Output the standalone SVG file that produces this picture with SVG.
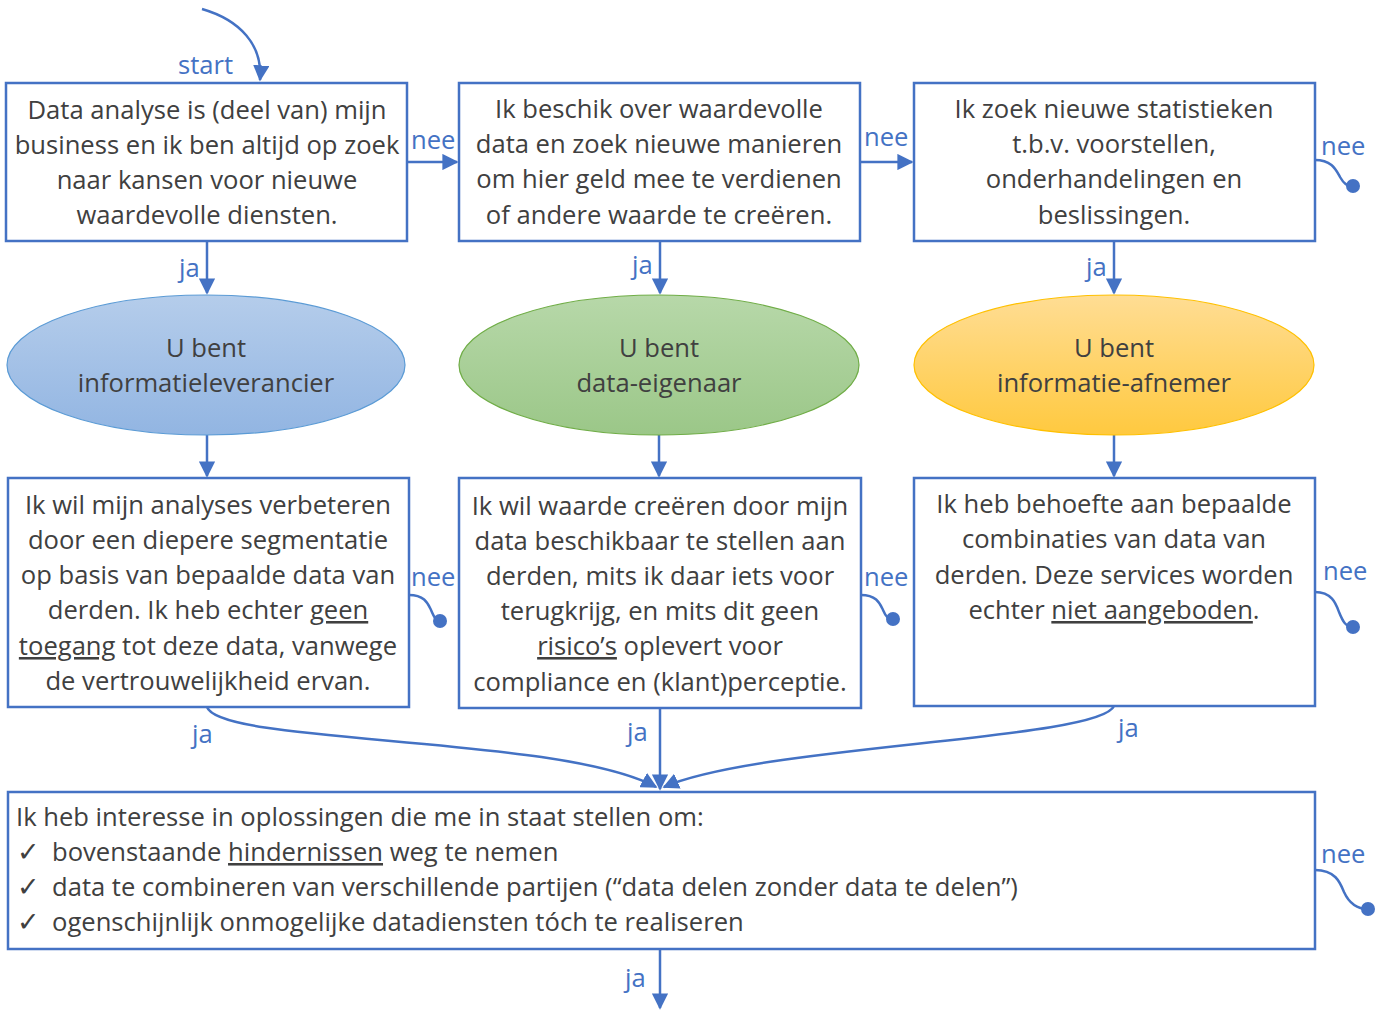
<svg xmlns="http://www.w3.org/2000/svg" width="1375" height="1012" viewBox="0 0 1375 1012">
<style>
.box{fill:#fff;stroke:#4472C4;stroke-width:2.5}
.t{font-family:"Open Sans","Liberation Sans",sans-serif;font-size:25.6px;fill:#404040;text-anchor:middle}
.tl{font-family:"Open Sans","Liberation Sans",sans-serif;font-size:25.6px;fill:#404040}
.lbl{font-family:"Open Sans","Liberation Sans",sans-serif;font-size:25.6px;fill:#4472C4}
.ln{fill:none;stroke:#4472C4;stroke-width:2.5}
.dot{fill:#4472C4}
.u{text-decoration:underline}
.chk{font-family:"DejaVu Sans",sans-serif;font-size:27px;fill:#404040}
</style>
<defs>
<marker id="ah" viewBox="0 0 10 10" refX="9" refY="5" markerWidth="6.5" markerHeight="6.5" markerUnits="strokeWidth" orient="auto">
<path d="M0,0 L10,5 L0,10 z" fill="#4472C4"/>
</marker>
<linearGradient id="gB" x1="0" y1="0" x2="0" y2="1"><stop offset="0" stop-color="#B5CDEB"/><stop offset="1" stop-color="#92B5E2"/></linearGradient>
<linearGradient id="gG" x1="0" y1="0" x2="0" y2="1"><stop offset="0" stop-color="#B7D8A9"/><stop offset="1" stop-color="#9BC788"/></linearGradient>
<linearGradient id="gY" x1="0" y1="0" x2="0" y2="1"><stop offset="0" stop-color="#FFDD94"/><stop offset="1" stop-color="#FFC93F"/></linearGradient>
</defs>

<g id="connectors">
<path class="ln" d="M202,9 C240,20 263,45 260,80" marker-end="url(#ah)"/>
<line class="ln" x1="407" y1="162" x2="457" y2="162" marker-end="url(#ah)"/>
<line class="ln" x1="860" y1="162" x2="912" y2="162" marker-end="url(#ah)"/>
<path class="ln" d="M1315,160 C1332,160 1336,170 1340,177 C1344,184 1347,186 1353,186"/>
<circle class="dot" cx="1353" cy="186" r="7"/>
<line class="ln" x1="207" y1="241" x2="207" y2="293" marker-end="url(#ah)"/>
<line class="ln" x1="660" y1="241" x2="660" y2="293" marker-end="url(#ah)"/>
<line class="ln" x1="1114" y1="241" x2="1114" y2="293" marker-end="url(#ah)"/>
<line class="ln" x1="207" y1="435" x2="207" y2="476" marker-end="url(#ah)"/>
<line class="ln" x1="659" y1="435" x2="659" y2="476" marker-end="url(#ah)"/>
<line class="ln" x1="1114" y1="435" x2="1114" y2="476" marker-end="url(#ah)"/>
<path class="ln" d="M409,595 C425,595 428,604 431,610 C434,617 436,621 440,621"/>
<circle class="dot" cx="440" cy="621" r="7"/>
<path class="ln" d="M861,595 C877,595 880,604 883,610 C886,617 888,619 893,619"/>
<circle class="dot" cx="893" cy="619" r="7"/>
<path class="ln" d="M1315,592 C1332,592 1336,604 1339,612 C1343,622 1346,627 1353,627"/>
<circle class="dot" cx="1353" cy="627" r="7"/>
<path class="ln" d="M207,707 C220,745 560,735 656,787" marker-end="url(#ah)"/>
<line class="ln" x1="660" y1="708" x2="660" y2="789" marker-end="url(#ah)"/>
<path class="ln" d="M1114,706 C1100,740 760,745 664,787" marker-end="url(#ah)"/>
<path class="ln" d="M1315,870 C1335,870 1340,882 1344,892 C1349,903 1356,909 1368,909"/>
<circle class="dot" cx="1368" cy="909" r="7"/>
<line class="ln" x1="660" y1="949" x2="660" y2="1008" marker-end="url(#ah)"/>
<text class="lbl" x="178" y="74">start</text>
<text class="lbl" x="411" y="149">nee</text>
<text class="lbl" x="864" y="146">nee</text>
<text class="lbl" x="1321" y="155">nee</text>
<text class="lbl" x="179" y="277">ja</text>
<text class="lbl" x="632" y="274">ja</text>
<text class="lbl" x="1086" y="276">ja</text>
<text class="lbl" x="411" y="586">nee</text>
<text class="lbl" x="864" y="586">nee</text>
<text class="lbl" x="1323" y="580">nee</text>
<text class="lbl" x="192" y="743">ja</text>
<text class="lbl" x="627" y="741">ja</text>
<text class="lbl" x="1118" y="737">ja</text>
<text class="lbl" x="1321" y="863">nee</text>
<text class="lbl" x="625" y="987">ja</text>
</g>

<g id="box1">
<rect class="box" x="6" y="83" width="401" height="158"/>
<text class="t" x="207" y="119">Data analyse is (deel van) mijn</text>
<text class="t" x="207" y="154">business en ik ben altijd op zoek</text>
<text class="t" x="207" y="189">naar kansen voor nieuwe</text>
<text class="t" x="207" y="224">waardevolle diensten.</text>
</g>
<g id="box2">
<rect class="box" x="459" y="83" width="401" height="158"/>
<text class="t" x="659" y="118">Ik beschik over waardevolle</text>
<text class="t" x="659" y="153">data en zoek nieuwe manieren</text>
<text class="t" x="659" y="188">om hier geld mee te verdienen</text>
<text class="t" x="659" y="224">of andere waarde te creëren.</text>
</g>
<g id="box3">
<rect class="box" x="914" y="83" width="401" height="158"/>
<text class="t" x="1114" y="118">Ik zoek nieuwe statistieken</text>
<text class="t" x="1114" y="153">t.b.v. voorstellen,</text>
<text class="t" x="1114" y="188">onderhandelingen en</text>
<text class="t" x="1114" y="224">beslissingen.</text>
</g>

<g id="ell1">
<ellipse cx="206" cy="365" rx="199" ry="70" fill="url(#gB)" stroke="#5B9BD5" stroke-width="1.2"/>
<text class="t" x="206" y="357">U bent</text>
<text class="t" x="206" y="392">informatieleverancier</text>
</g>
<g id="ell2">
<ellipse cx="659" cy="365" rx="200" ry="70" fill="url(#gG)" stroke="#70AD47" stroke-width="1.2"/>
<text class="t" x="659" y="357">U bent</text>
<text class="t" x="659" y="392">data-eigenaar</text>
</g>
<g id="ell3">
<ellipse cx="1114" cy="365" rx="200" ry="70" fill="url(#gY)" stroke="#FFC000" stroke-width="1.2"/>
<text class="t" x="1114" y="357">U bent</text>
<text class="t" x="1114" y="392">informatie-afnemer</text>
</g>

<g id="box4">
<rect class="box" x="8" y="478" width="401" height="229"/>
<text class="t" x="208" y="514">Ik wil mijn analyses verbeteren</text>
<text class="t" x="208" y="549">door een diepere segmentatie</text>
<text class="t" x="208" y="584">op basis van bepaalde data van</text>
<text class="t" x="208" y="619">derden. Ik heb echter <tspan class="u">geen</tspan></text>
<text class="t" x="208" y="655"><tspan class="u">toegang</tspan> tot deze data, vanwege</text>
<text class="t" x="208" y="690">de vertrouwelijkheid ervan.</text>
</g>
<g id="box5">
<rect class="box" x="459" y="478" width="402" height="230"/>
<text class="t" x="660" y="515">Ik wil waarde creëren door mijn</text>
<text class="t" x="660" y="550">data beschikbaar te stellen aan</text>
<text class="t" x="660" y="585">derden, mits ik daar iets voor</text>
<text class="t" x="660" y="620">terugkrijg, en mits dit geen</text>
<text class="t" x="660" y="655"><tspan class="u">risico’s</tspan> oplevert voor</text>
<text class="t" x="660" y="691">compliance en (klant)perceptie.</text>
</g>
<g id="box6">
<rect class="box" x="914" y="478" width="401" height="228"/>
<text class="t" x="1114" y="513">Ik heb behoefte aan bepaalde</text>
<text class="t" x="1114" y="548">combinaties van data van</text>
<text class="t" x="1114" y="584">derden. Deze services worden</text>
<text class="t" x="1114" y="619">echter <tspan class="u">niet aangeboden</tspan>.</text>
</g>

<g id="box7">
<rect class="box" x="8" y="792" width="1307" height="157"/>
<text class="tl" x="16" y="826">Ik heb interesse in oplossingen die me in staat stellen om:</text>
<text class="chk" x="17" y="861">✓</text>
<text class="tl" x="52" y="861">bovenstaande <tspan class="u">hindernissen</tspan> weg te nemen</text>
<text class="chk" x="17" y="896">✓</text>
<text class="tl" x="52" y="896">data te combineren van verschillende partijen (“data delen zonder data te delen”)</text>
<text class="chk" x="17" y="931">✓</text>
<text class="tl" x="52" y="931">ogenschijnlijk onmogelijke datadiensten tóch te realiseren</text>
</g>
</svg>
